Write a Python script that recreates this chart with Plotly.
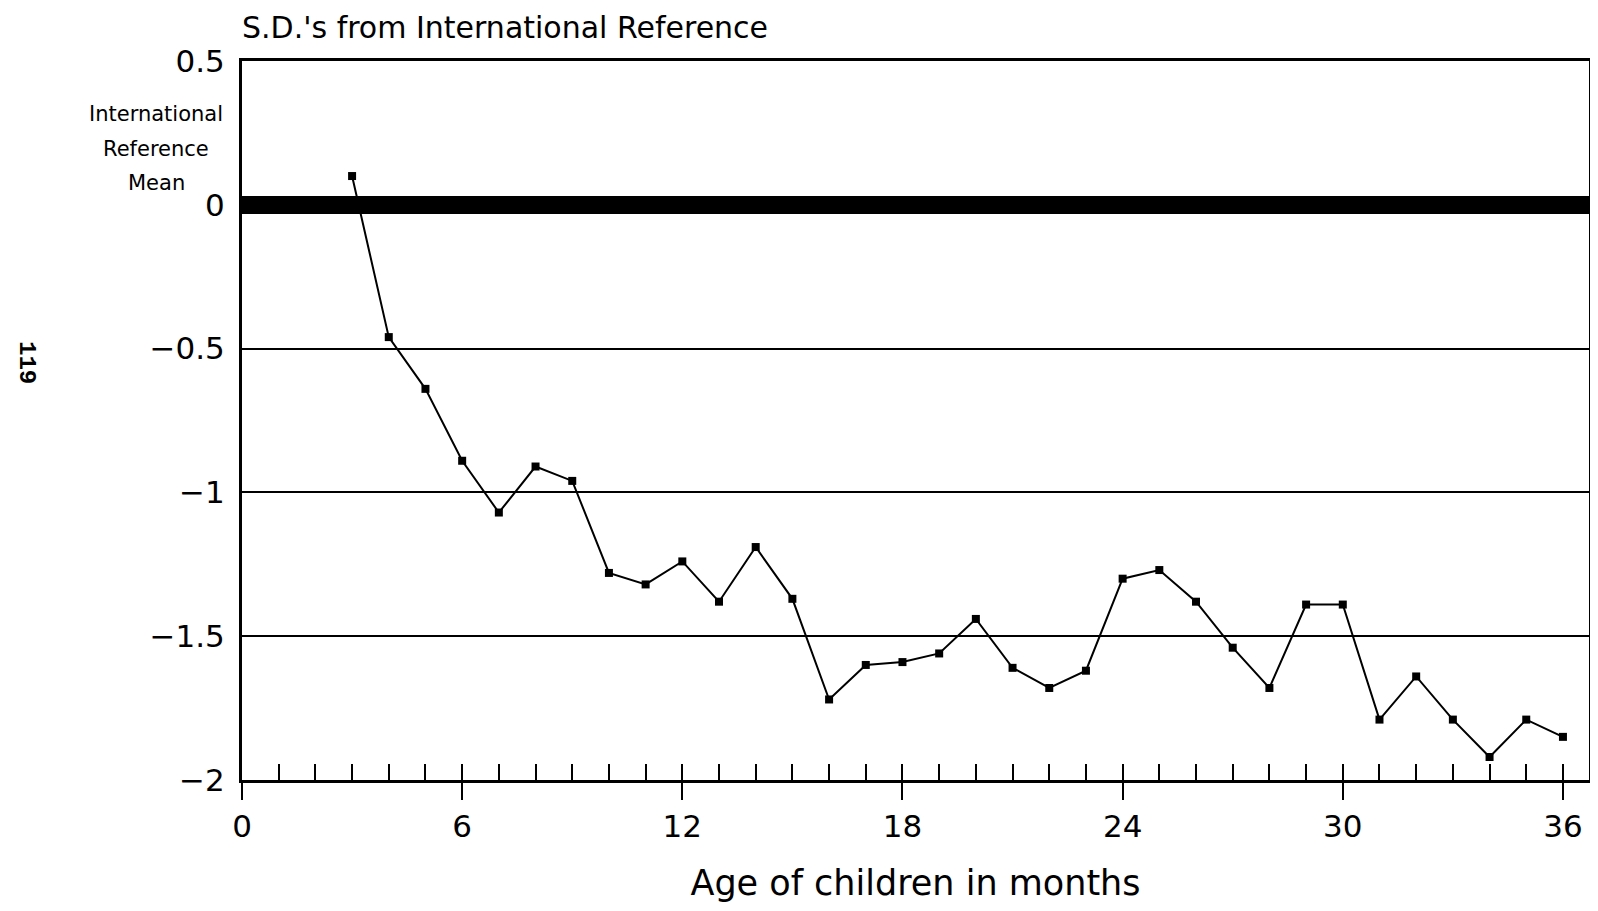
import plotly.graph_objects as go

# ---- data ----
months = list(range(3, 37))
sd_values = [0.10, -0.46, -0.64, -0.89, -1.07, -0.91, -0.96, -1.28, -1.32, -1.24,
             -1.38, -1.19, -1.37, -1.72, -1.60, -1.59, -1.56, -1.44, -1.61, -1.68,
             -1.62, -1.30, -1.27, -1.38, -1.54, -1.68, -1.39, -1.39, -1.79, -1.64,
             -1.79, -1.92, -1.79, -1.85]
x_tick_vals = [0, 6, 12, 18, 24, 30, 36]
x_tick_text = ["0", "6", "12", "18", "24", "30", "36"]
y_tick_vals = [0.5, 0, -0.5, -1, -1.5, -2]
y_tick_text = ["0.5", "0", "\u22120.5", "\u22121", "\u22121.5", "\u22122"]
title_text = "S.D.'s from International Reference"
x_title = "Age of children in months"
ref_label_lines = ["International", "Reference", "Mean"]
page_number = "119"

# page body has an 8px default margin: keep the figure inside the viewport
OFF = 8
W, H = 1598 - 2 * OFF, 911 - 2 * OFF
L = 242 - OFF
T = 61 - OFF
B = H - (780 - OFF)
R = 1
FONT = "DejaVu Sans"
X_MAX = 36.71

fig = go.Figure()

# invisible copy on the overlay axis (carries the monthly minor ticks)
fig.add_trace(go.Scatter(x=months, y=sd_values, xaxis="x2", mode="lines",
                         opacity=0, hoverinfo="skip", showlegend=False))

fig.add_trace(go.Scatter(
    x=months, y=sd_values, mode="lines+markers",
    line=dict(color="black", width=2),
    marker=dict(symbol="square", size=8, color="black"),
    showlegend=False,
))

fig.update_layout(
    width=W, height=H,
    margin=dict(l=L, r=R, t=T, b=B, autoexpand=False),
    paper_bgcolor="white", plot_bgcolor="white",
    font=dict(family=FONT, color="black"),
    title=dict(text=title_text, x=L / W, xanchor="left", xref="container",
               y=1 - (27 - OFF) / H, yanchor="middle", yref="container",
               font=dict(size=30, family=FONT, color="black")),
    xaxis=dict(
        range=[0, X_MAX], tickvals=x_tick_vals, ticktext=x_tick_text,
        ticks="outside", ticklen=17, tickwidth=2, tickcolor="black",
        showgrid=False, zeroline=False, automargin=False,
        showline=True, linewidth=3, linecolor="black", mirror=True,
        tickfont=dict(size=31, family=FONT),
        title=dict(text=x_title, font=dict(size=35, family=FONT), standoff=36),
    ),
    xaxis2=dict(
        range=[0, X_MAX], overlaying="x", anchor="y", side="bottom",
        dtick=1, tick0=0, ticks="inside", ticklen=16, tickwidth=2,
        tickcolor="black", showticklabels=False, showgrid=False,
        zeroline=False, showline=False, automargin=False,
    ),
    yaxis=dict(
        range=[-2, 0.5], tickvals=y_tick_vals, ticktext=y_tick_text,
        ticks="", showgrid=True, gridcolor="black", gridwidth=1.5,
        zeroline=True, zerolinecolor="black", zerolinewidth=18,
        showline=True, linewidth=3, linecolor="black", mirror=True,
        tickfont=dict(size=31, family=FONT), ticklabelstandoff=8,
        automargin=False,
    ),
)

plot_h = H - T - B
plot_w = W - L - R


def px_to_paper(page_x, page_y):
    return ((page_x - OFF - L) / plot_w, (H - B - (page_y - OFF)) / plot_h)


# "International Reference Mean" label lines
for line_text, ypix in zip(ref_label_lines, [114, 149, 183]):
    ax, ay = px_to_paper(156, ypix)
    fig.add_annotation(
        text=line_text, xref="paper", yref="paper", x=ax, y=ay,
        xanchor="center", yanchor="middle", showarrow=False,
        font=dict(size=21, family=FONT, color="black"),
    )

# rotated page number at the far left
ax, ay = px_to_paper(27, 362)
fig.add_annotation(
    text="<b>" + page_number + "</b>", xref="paper", yref="paper", x=ax, y=ay,
    xanchor="center", yanchor="middle", showarrow=False, textangle=90,
    font=dict(size=24, family="Liberation Mono", color="black"),
)

fig.write_html("out.html")
